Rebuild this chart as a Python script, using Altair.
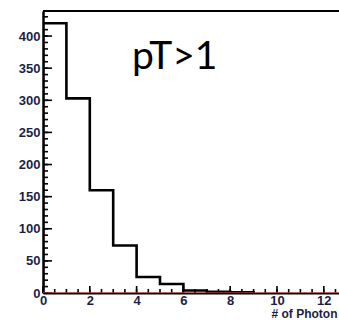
import altair as alt
import pandas as pd

# histogram bin lower edges and counts (black) ; red histogram (all ~0)
bin_edges = [0, 1, 2, 3, 4, 5, 6, 7, 8, 9]
counts = [420, 303, 160, 74, 25, 14, 4, 2, 1]
red_edges = [0, 1, 2, 3, 4, 5, 6, 7, 8, 9, 10, 11, 12, 13]
red_counts = [0, 0, 0, 0, 0, 0, 0, 0, 0, 0, 0, 0, 0, 0]

x_labels = [0, 2, 4, 6, 8, 10, 12]
y_labels = [0, 50, 100, 150, 200, 250, 300, 350, 400]
x_minor = [0, 0.5, 1, 1.5, 2, 2.5, 3, 3.5, 4, 4.5, 5, 5.5, 6, 6.5, 7, 7.5, 8, 8.5,
           9, 9.5, 10, 10.5, 11, 11.5, 12, 12.5]
y_minor = [0, 10, 20, 30, 40, 50, 60, 70, 80, 90, 100, 110, 120, 130, 140, 150, 160,
           170, 180, 190, 200, 210, 220, 230, 240, 250, 260, 270, 280, 290, 300, 310,
           320, 330, 340, 350, 360, 370, 380, 390, 400, 410, 420, 430]

W, H = 296, 282
LAB = "#1c1f45"

xs = alt.Scale(domain=[0, 12.65], nice=False, zero=False)
ys = alt.Scale(domain=[0, 439], nice=False, zero=False)

xaxis = alt.Axis(
    values=x_labels, ticks=False, domain=True, domainColor="black", domainWidth=2,
    grid=False, labelFont="Liberation Sans", labelFontWeight="bold", labelFontSize=13,
    labelColor=LAB, labelPadding=1, labelFlush=False,
    title="# of Photon", titleFont="Liberation Sans", titleFontWeight="bold",
    titleFontSize=12, titleColor=LAB, titleAnchor="end", titleAlign="right",
    titleX=W - 2, titleY=24, titleBaseline="alphabetic")
yaxis = alt.Axis(
    values=y_labels, ticks=False, domain=True, domainColor="black", domainWidth=2.5,
    grid=False, labelFont="Liberation Sans", labelFontWeight="bold", labelFontSize=13,
    labelColor=LAB, labelPadding=3, labelFlush=False, title=None)

hist_df = pd.DataFrame({
    "x": [bin_edges[0]] + bin_edges,
    "y": [0] + counts + [0],
    "i": list(range(len(bin_edges) + 1)),
})
red_df = pd.DataFrame({"x": red_edges, "y": red_counts})

y_major_ticks = alt.Chart(pd.DataFrame({"v": y_labels})).mark_rule(
    color="black", strokeWidth=1.6).encode(
    y=alt.Y("v:Q", scale=ys, axis=yaxis), x=alt.value(0), x2=alt.value(9))
y_minor_ticks = alt.Chart(pd.DataFrame({"v": y_minor})).mark_rule(
    color="black", strokeWidth=1.6).encode(
    y=alt.Y("v:Q", scale=ys, axis=yaxis), x=alt.value(0), x2=alt.value(5))
x_major_ticks = alt.Chart(pd.DataFrame({"v": x_labels})).mark_rule(
    color="black", strokeWidth=1.6).encode(
    x=alt.X("v:Q", scale=xs, axis=xaxis), y=alt.value(H), y2=alt.value(H - 7))
x_minor_ticks = alt.Chart(pd.DataFrame({"v": x_minor})).mark_rule(
    color="black", strokeWidth=1.6).encode(
    x=alt.X("v:Q", scale=xs, axis=xaxis), y=alt.value(H), y2=alt.value(H - 4))

top_frame = alt.Chart(pd.DataFrame({"a": [0]})).mark_rule(
    color="black", strokeWidth=2).encode(
    x=alt.value(0), x2=alt.value(W), y=alt.value(0))

hist = alt.Chart(hist_df).mark_line(
    interpolate="step-after", color="black", strokeWidth=2.6, clip=True).encode(
    x=alt.X("x:Q", scale=xs, axis=xaxis),
    y=alt.Y("y:Q", scale=ys, axis=yaxis),
    order="i:Q")

red = alt.Chart(red_df).mark_line(
    interpolate="step-after", color="#e05050", strokeWidth=1, clip=True).encode(
    x=alt.X("x:Q", scale=xs, axis=xaxis),
    y=alt.Y("y:Q", scale=ys, axis=yaxis))

label = alt.Chart(pd.DataFrame({"t": ["pT>1"]})).mark_text(
    font="Lato", fontSize=39, color="black", align="left", baseline="alphabetic").encode(
    text="t:N", x=alt.value(89), y=alt.value(58))

chart = alt.layer(
    hist, x_minor_ticks, x_major_ticks, y_minor_ticks, y_major_ticks,
    red, top_frame, label
).properties(
    width=W, height=H,
    autosize=alt.AutoSizeParams(type="none"),
    padding={"left": 43, "top": 11, "right": 0, "bottom": 27},
).configure_view(stroke=None).configure(background="white")

chart.save("out.html", embed_options={"renderer": "svg", "actions": False})
